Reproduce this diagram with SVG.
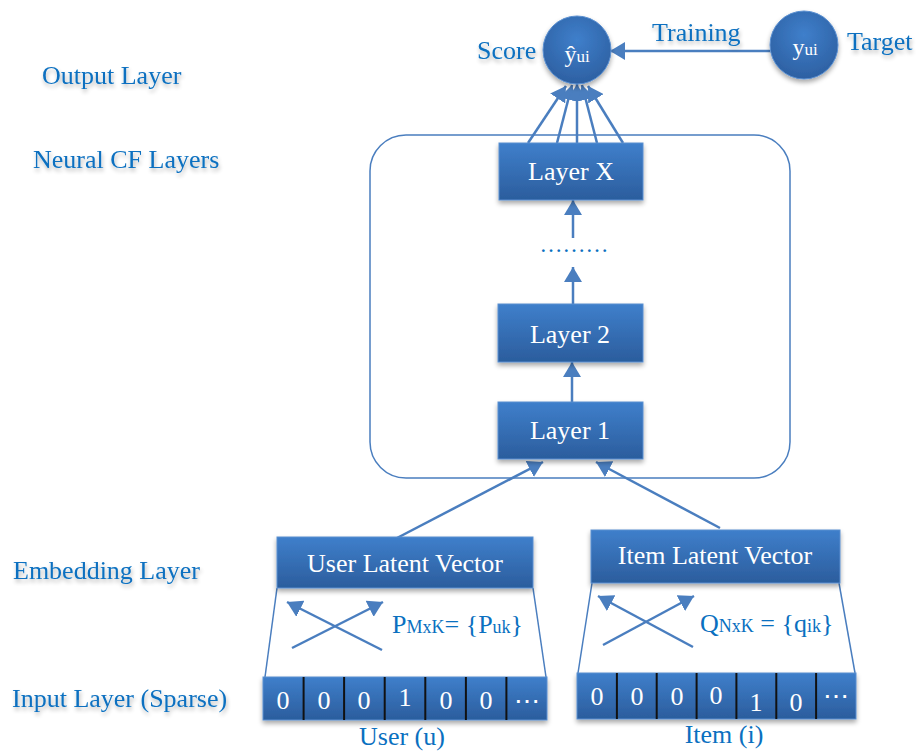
<svg xmlns="http://www.w3.org/2000/svg" width="916" height="752" viewBox="0 0 916 752">
<defs>
<linearGradient id="boxg" x1="0" y1="0" x2="0" y2="1">
<stop offset="0" stop-color="#3f7fcb"/>
<stop offset="1" stop-color="#2b5d9d"/>
</linearGradient>
<radialGradient id="circg" cx="0.5" cy="0.35" r="0.65">
<stop offset="0" stop-color="#3f7fcb"/>
<stop offset="1" stop-color="#2d60a2"/>
</radialGradient>
<filter id="sh" x="-20%" y="-20%" width="140%" height="160%">
<feGaussianBlur in="SourceAlpha" stdDeviation="2.5"/>
<feOffset dx="0" dy="3" result="b"/>
<feComponentTransfer><feFuncA type="linear" slope="0.35"/></feComponentTransfer>
<feMerge><feMergeNode/><feMergeNode in="SourceGraphic"/></feMerge>
</filter>
<filter id="tsh" x="-10%" y="-30%" width="120%" height="180%">
<feGaussianBlur in="SourceAlpha" stdDeviation="2"/>
<feOffset dx="1" dy="3" result="b"/>
<feComponentTransfer><feFuncA type="linear" slope="0.3"/></feComponentTransfer>
<feMerge><feMergeNode/><feMergeNode in="SourceGraphic"/></feMerge>
</filter>
<marker id="ah" viewBox="0 0 15 18" refX="15" refY="9" markerWidth="15" markerHeight="18" markerUnits="userSpaceOnUse" orient="auto">
<path d="M0,0 L15,9 L0,18 Z" fill="#4a7ebf"/>
</marker>
</defs>
<style>
text{font-family:"Liberation Serif","Times New Roman",serif;}
.lbl{font-size:26px;fill:#0a70c0;}
.wt{font-size:26px;fill:#ffffff;}
.box{fill:url(#boxg);stroke:#5a8fd0;stroke-width:1;}
.conn{stroke:#4a7ebf;stroke-width:2.5;fill:none;}
.thin{stroke:#4a7ebf;stroke-width:1.5;fill:none;}
.sep{stroke:#111111;stroke-width:2;}
</style>

<!-- side labels -->
<g id="side-labels" filter="url(#tsh)">
<text class="lbl" x="42" y="84">Output Layer</text>
<text class="lbl" x="33" y="168">Neural CF Layers</text>
<text class="lbl" x="13" y="579">Embedding Layer</text>
<text class="lbl" x="12" y="707">Input Layer (Sparse)</text>
</g>

<!-- container -->
<g id="ncf-container">
<rect x="370" y="135" width="420" height="343" rx="36" ry="36" fill="none" stroke="#4a7ebf" stroke-width="1.5"/>
</g>

<!-- connectors -->
<g id="connectors">
<line class="conn" x1="770" y1="51" x2="610" y2="51" marker-end="url(#ah)"/>
<line class="conn" x1="528" y1="143" x2="566" y2="86" marker-end="url(#ah)"/>
<line class="conn" x1="557" y1="143" x2="572" y2="85" marker-end="url(#ah)"/>
<line class="conn" x1="577" y1="143" x2="577" y2="84" marker-end="url(#ah)"/>
<line class="conn" x1="597" y1="143" x2="582" y2="85" marker-end="url(#ah)"/>
<line class="conn" x1="623" y1="143" x2="588" y2="86" marker-end="url(#ah)"/>
<line class="conn" x1="573" y1="238" x2="573" y2="200" marker-end="url(#ah)"/>
<line class="conn" x1="573" y1="304" x2="573" y2="267" marker-end="url(#ah)"/>
<line class="conn" x1="572" y1="402" x2="572" y2="362" marker-end="url(#ah)"/>
<line class="conn" x1="397" y1="538" x2="543" y2="462" marker-end="url(#ah)"/>
<line class="conn" x1="720" y1="528" x2="596" y2="462" marker-end="url(#ah)"/>
<!-- user cross -->
<line class="conn" x1="382" y1="650" x2="287" y2="602" marker-end="url(#ah)"/>
<line class="conn" x1="292" y1="648" x2="383" y2="602" marker-end="url(#ah)"/>
<!-- item cross -->
<line class="conn" x1="693" y1="647" x2="598" y2="596" marker-end="url(#ah)"/>
<line class="conn" x1="603" y1="645" x2="694" y2="596" marker-end="url(#ah)"/>
<!-- trapezoid sides -->
<line class="thin" x1="277" y1="588" x2="265" y2="677"/>
<line class="thin" x1="533" y1="588" x2="546" y2="677"/>
<line class="thin" x1="592" y1="583" x2="578" y2="673"/>
<line class="thin" x1="839" y1="583" x2="855" y2="673"/>
</g>

<!-- score node -->
<g id="score">
<circle cx="577" cy="50" r="34" fill="url(#circg)" stroke="#5a8fd0" stroke-width="1" filter="url(#sh)"/>
<text x="577" y="62" text-anchor="middle" fill="#fff" font-size="24">ŷ<tspan font-size="17">ui</tspan></text>
<text class="lbl" x="477" y="59" filter="url(#tsh)">Score</text>
</g>

<!-- target node -->
<g id="target">
<circle cx="804" cy="45" r="34" fill="url(#circg)" stroke="#5a8fd0" stroke-width="1" filter="url(#sh)"/>
<text x="805" y="55" text-anchor="middle" fill="#fff" font-size="24">y<tspan font-size="17">ui</tspan></text>
<text class="lbl" x="847" y="50" filter="url(#tsh)">Target</text>
</g>

<g id="training-label">
<text class="lbl" x="652" y="41" filter="url(#tsh)">Training</text>
</g>

<g id="layer-x">
<rect class="box" x="499" y="143" width="144" height="57" filter="url(#sh)"/>
<text class="wt" x="571" y="180" text-anchor="middle">Layer X</text>
</g>

<g id="dots">
<text x="574" y="252" text-anchor="middle" font-size="23" fill="#0a70c0">………</text>
</g>

<g id="layer-2">
<rect class="box" x="498" y="304" width="145" height="58" filter="url(#sh)"/>
<text class="wt" x="570" y="343" text-anchor="middle">Layer 2</text>
</g>

<g id="layer-1">
<rect class="box" x="498" y="402" width="145" height="57" filter="url(#sh)"/>
<text class="wt" x="570" y="439" text-anchor="middle">Layer 1</text>
</g>

<g id="user-latent">
<rect class="box" x="277" y="537" width="256" height="51" filter="url(#sh)"/>
<text class="wt" x="405" y="572" text-anchor="middle">User Latent Vector</text>
</g>

<g id="item-latent">
<rect class="box" x="591" y="530" width="249" height="53" filter="url(#sh)"/>
<text class="wt" x="715" y="564" text-anchor="middle">Item Latent Vector</text>
</g>

<g id="user-matrix">
<text x="392" y="633" font-size="26" fill="#0a70c0">P<tspan font-size="18">MxK</tspan>= {P<tspan font-size="18">uk</tspan>}</text>
</g>

<g id="item-matrix">
<text x="700" y="632" font-size="26" fill="#0a70c0">Q<tspan font-size="18">NxK</tspan> = {q<tspan font-size="18">ik</tspan>}</text>
</g>

<g id="user-input">
<rect class="box" x="263" y="677" width="284" height="43" filter="url(#sh)"/>
<line class="sep" x1="303.6" y1="677" x2="303.6" y2="720"/>
<line class="sep" x1="344.1" y1="677" x2="344.1" y2="720"/>
<line class="sep" x1="384.7" y1="677" x2="384.7" y2="720"/>
<line class="sep" x1="425.3" y1="677" x2="425.3" y2="720"/>
<line class="sep" x1="465.9" y1="677" x2="465.9" y2="720"/>
<line class="sep" x1="506.4" y1="677" x2="506.4" y2="720"/>
<g text-anchor="middle">
<text class="wt" x="283" y="709">0</text>
<text class="wt" x="324" y="709">0</text>
<text class="wt" x="364" y="709">0</text>
<text class="wt" x="405" y="706">1</text>
<text class="wt" x="446" y="709">0</text>
<text class="wt" x="486" y="709">0</text>
<text class="wt" x="527" y="710">⋯</text>
</g>
<text class="lbl" x="402" y="745" text-anchor="middle">User (u)</text>
</g>

<g id="item-input">
<rect class="box" x="577" y="673" width="279" height="46" filter="url(#sh)"/>
<line class="sep" x1="616.9" y1="673" x2="616.9" y2="719"/>
<line class="sep" x1="656.7" y1="673" x2="656.7" y2="719"/>
<line class="sep" x1="696.6" y1="673" x2="696.6" y2="719"/>
<line class="sep" x1="736.4" y1="673" x2="736.4" y2="719"/>
<line class="sep" x1="776.3" y1="673" x2="776.3" y2="719"/>
<line class="sep" x1="816.1" y1="673" x2="816.1" y2="719"/>
<g text-anchor="middle">
<text class="wt" x="597" y="705">0</text>
<text class="wt" x="637" y="705">0</text>
<text class="wt" x="677" y="705">0</text>
<text class="wt" x="716" y="704">0</text>
<text class="wt" x="756" y="711">1</text>
<text class="wt" x="796" y="711">0</text>
<text class="wt" x="836" y="705">⋯</text>
</g>
<text class="lbl" x="724" y="743" text-anchor="middle">Item (i)</text>
</g>
</svg>
